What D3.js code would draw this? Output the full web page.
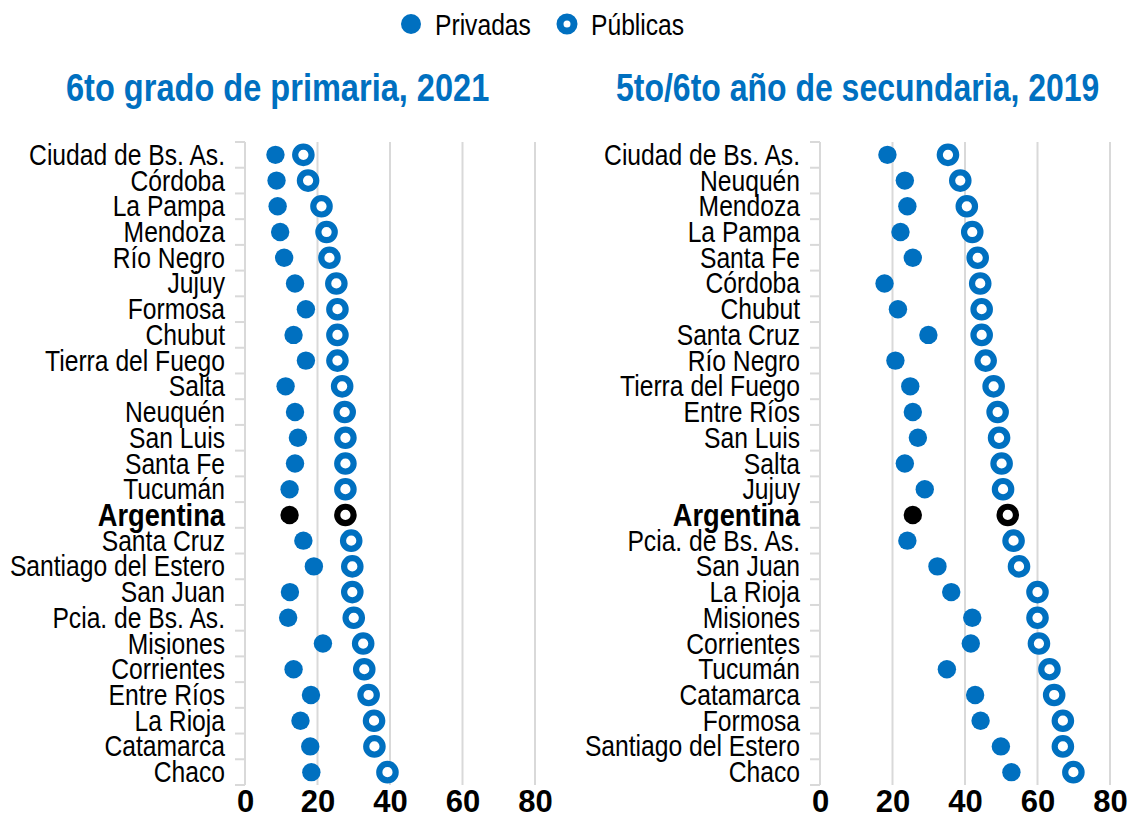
<!DOCTYPE html>
<html>
<head>
<meta charset="utf-8">
<script src="https://cdn.jsdelivr.net/npm/d3@7"></script>
<style>
  html, body { margin: 0; padding: 0; background: #fff; }
  svg { display: block; }
  text { font-family: "Liberation Sans", Arial, sans-serif; }
  .cat { font-size: 29px; fill: #000; }
  .cat.nat { font-weight: bold; font-size: 31px; }
  .title { font-weight: bold; font-size: 39px; fill: #0070C0; }
  .legend text { font-size: 29px; fill: #000; }
</style>
</head>
<body>
<script>
// ---- data ----
const xTicks = [0, 20, 40, 60, 80];

const primTitle = "6to grado de primaria, 2021";
const primRows = ["Ciudad de Bs. As.", "Córdoba", "La Pampa", "Mendoza", "Río Negro", "Jujuy",
  "Formosa", "Chubut", "Tierra del Fuego", "Salta", "Neuquén", "San Luis", "Santa Fe", "Tucumán",
  "Argentina", "Santa Cruz", "Santiago del Estero", "San Juan", "Pcia. de Bs. As.", "Misiones",
  "Corrientes", "Entre Ríos", "La Rioja", "Catamarca", "Chaco"];
const primPrivadas = [8.4, 8.7, 9.0, 9.7, 10.8, 13.8, 16.8, 13.4, 16.8, 11.2, 13.8, 14.6, 13.8, 12.3,
  12.3, 16.1, 19.0, 12.4, 11.9, 21.5, 13.4, 18.2, 15.3, 18.0, 18.3];
const primPublicas = [16.1, 17.4, 21.1, 22.5, 23.3, 25.2, 25.5, 25.5, 25.5, 26.8, 27.5, 27.7, 27.7, 27.7,
  27.7, 29.3, 29.6, 29.6, 30.0, 32.6, 32.9, 34.1, 35.6, 35.7, 39.3];

const secTitle = "5to/6to año de secundaria, 2019";
const secRows = ["Ciudad de Bs. As.", "Neuquén", "Mendoza", "La Pampa", "Santa Fe", "Córdoba",
  "Chubut", "Santa Cruz", "Río Negro", "Tierra del Fuego", "Entre Ríos", "San Luis", "Salta", "Jujuy",
  "Argentina", "Pcia. de Bs. As.", "San Juan", "La Rioja", "Misiones", "Corrientes", "Tucumán",
  "Catamarca", "Formosa", "Santiago del Estero", "Chaco"];
const secPrivadas = [18.6, 23.4, 24.1, 22.2, 25.6, 17.8, 21.5, 29.9, 20.8, 24.9, 25.6, 27.0, 23.4, 28.9,
  25.6, 24.1, 32.4, 36.2, 42.0, 41.6, 35.0, 42.8, 44.3, 49.9, 52.8];
const secPublicas = [35.3, 38.7, 40.5, 42.0, 43.5, 44.2, 44.6, 44.6, 45.7, 47.9, 49.0, 49.4, 50.1, 50.5,
  51.8, 53.4, 54.9, 60.0, 60.0, 60.4, 63.3, 64.6, 67.0, 67.0, 69.9];

const legendItems = ["Privadas", "Públicas"];
const nationalRow = "Argentina";

// ---- layout ----
const W = 1131, H = 818;
const BLUE = "#0070C0";
const GRID = "#d9d9d9";
const plotTop = 142, plotBottom = 785;

const svg = d3.select("body").append("svg").attr("width", W).attr("height", H);

// no condensed face installed -> place text at (x, y) and squeeze it horizontally
const squeeze = (x, y, k) => `translate(${x},${y}) scale(${k},1)`;

// legend
const legend = svg.append("g").attr("class", "legend");
const legendX = [411, 567];
legend.append("circle").attr("cx", legendX[0]).attr("cy", 24).attr("r", 10).attr("fill", BLUE);
legend.append("circle").attr("cx", legendX[1]).attr("cy", 24).attr("r", 7)
  .attr("fill", "#fff").attr("stroke", BLUE).attr("stroke-width", 7);
legend.selectAll("text").data(legendItems).join("text")
  .attr("transform", (d, i) => squeeze(legendX[i] + 24, 35, 0.85)).text((d) => d);

function panel(cfg) {
  const x = d3.scaleLinear().domain([0, 80]).range([cfg.x0, cfg.x0 + 290]);
  const y = d3.scaleBand().domain(cfg.rows).range([plotTop, plotBottom]);
  const g = svg.append("g");

  g.append("text").attr("class", "title")
    .attr("transform", squeeze(cfg.titleX, 101, cfg.titleK)).text(cfg.title);

  // gridlines (0 line doubles as the axis line)
  g.append("g").selectAll("line").data(xTicks).join("line")
    .attr("x1", (d) => x(d)).attr("x2", (d) => x(d))
    .attr("y1", plotTop).attr("y2", plotBottom)
    .attr("stroke", GRID).attr("stroke-width", 2);

  // category separator ticks on the left of the axis
  const bounds = cfg.rows.map((r) => y(r)).concat([plotBottom]);
  g.append("g").selectAll("line").data(bounds).join("line")
    .attr("x1", cfg.x0 - 10).attr("x2", cfg.x0)
    .attr("y1", (d) => d).attr("y2", (d) => d)
    .attr("stroke", GRID).attr("stroke-width", 2);

  // x axis labels
  const ax = g.append("g").attr("transform", `translate(0,${plotBottom})`)
    .call(d3.axisBottom(x).tickValues(xTicks).tickSize(0).tickPadding(5));
  ax.select(".domain").remove();
  ax.selectAll("text").attr("fill", "#000").style("font-size", "31px")
    .style("font-family", "'Liberation Sans', Arial, sans-serif").style("font-weight", "bold");

  // category labels
  const yc = (r) => y(r) + y.bandwidth() / 2;
  g.append("g").selectAll("text").data(cfg.rows).join("text")
    .attr("class", (d) => d === nationalRow ? "cat nat" : "cat")
    .attr("transform", (d) => squeeze(cfg.x0 - 20, yc(d) + (d === nationalRow ? 11 : 10),
      d === nationalRow ? 0.88 : 0.85))
    .attr("text-anchor", "end").text((d) => d);

  const col = (r) => r === nationalRow ? "#000" : BLUE;

  // privadas: filled dots
  g.append("g").selectAll("circle").data(cfg.rows).join("circle")
    .attr("cx", (d, i) => x(cfg.priv[i])).attr("cy", yc)
    .attr("r", 9.2).attr("fill", col);

  // públicas: rings
  g.append("g").selectAll("circle").data(cfg.rows).join("circle")
    .attr("cx", (d, i) => x(cfg.pub[i])).attr("cy", yc)
    .attr("r", 8.2).attr("fill", "#fff").attr("stroke", col).attr("stroke-width", 6.2);
}

panel({ rows: primRows, priv: primPrivadas, pub: primPublicas, title: primTitle, x0: 245, titleX: 66, titleK: 0.835 });
panel({ rows: secRows, priv: secPrivadas, pub: secPublicas, title: secTitle, x0: 820, titleX: 616, titleK: 0.82 });
</script>
</body>
</html>
